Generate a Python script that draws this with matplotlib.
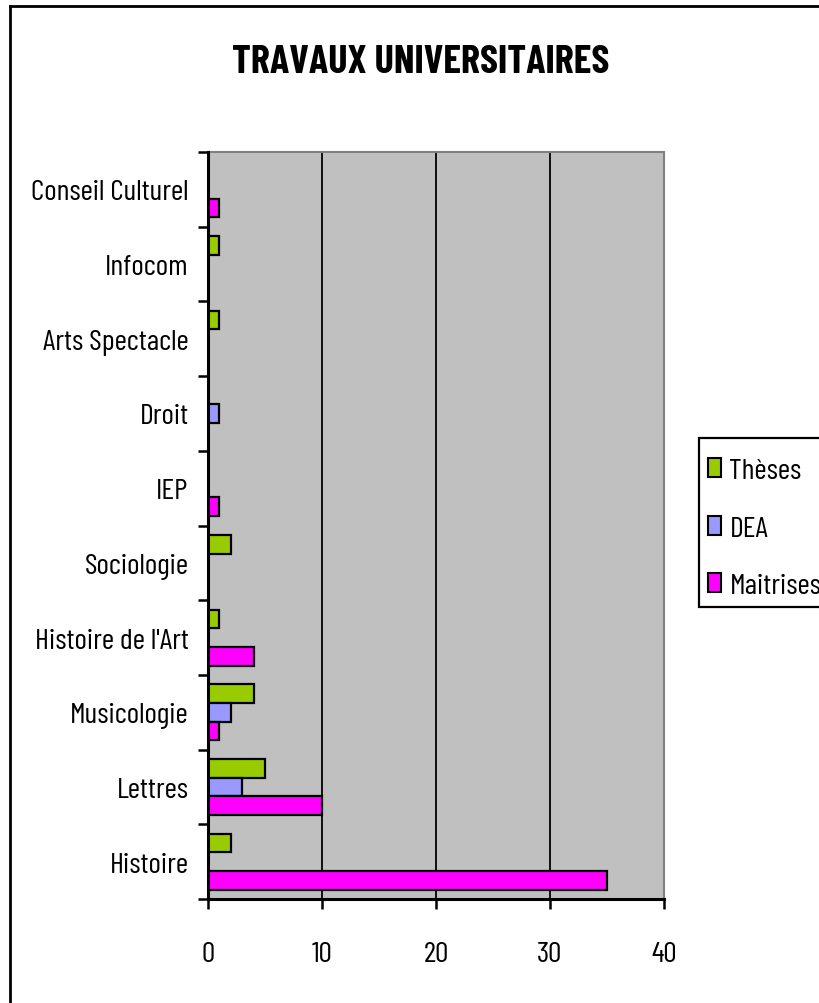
import matplotlib
matplotlib.use("Agg")
import matplotlib.pyplot as plt
import numpy as np
from matplotlib.lines import Line2D
from matplotlib.patches import Rectangle

categories = ["Histoire", "Lettres", "Musicologie", "Histoire de l'Art", "Sociologie",
              "IEP", "Droit", "Arts Spectacle", "Infocom", "Conseil Culturel"]
theses    = [2, 5, 4, 1, 2, 0, 0, 1, 1, 0]
dea       = [0, 3, 2, 0, 0, 0, 1, 0, 0, 0]
maitrises = [35, 10, 1, 4, 0, 1, 0, 0, 0, 1]
series_names = ["Thèses", "DEA", "Maitrises"]
x_ticks = [0, 10, 20, 30, 40]

FONT = ["Barlow Condensed", "Pragati Narrow", "DejaVu Sans"]
plt.rcParams['font.family'] = FONT
FS = 21.5

W, H = 820, 1004
fig = plt.figure(figsize=(W/100, H/100), dpi=100)
ax = fig.add_axes([208/W, 1-900/H, (664-208)/W, (900-153)/H])
ax.set_facecolor("#C0C0C0")

y = np.arange(len(categories))
bh = 0.25
cols = ["#99CC00", "#9999FF", "#FF00FF"]
for vals, off, c, name in zip([theses, dea, maitrises], [bh, 0, -bh], cols, series_names):
    ax.barh(y + off, vals, height=bh, color=c, edgecolor="black", linewidth=1.6,
            label=name, zorder=3)

ax.set_xlim(0, 40)
ax.set_ylim(-0.5, len(categories) - 0.5)
ax.set_xticks(x_ticks)
ax.set_xticklabels([str(v) for v in x_ticks], fontsize=FS)
ax.set_yticks(np.arange(len(categories) + 1) - 0.5)
ax.set_yticklabels([])
ax.set_yticks(y, minor=True)
ax.set_yticklabels(categories, minor=True, fontsize=FS)
ax.tick_params(axis='y', which='major', direction='out', length=7, width=1.8, color='black')
ax.tick_params(axis='y', which='minor', length=0, pad=14)
ax.tick_params(axis='x', which='major', direction='out', length=7, width=1.8, pad=23)

for gx in x_ticks[1:-1]:
    ax.axvline(gx, color="black", linewidth=1.3, zorder=1)

for s in ["left", "bottom"]:
    ax.spines[s].set_linewidth(2.2)
    ax.spines[s].set_color("black")
    ax.spines[s].set_zorder(4)
for s in ["top", "right"]:
    ax.spines[s].set_linewidth(1.5)
    ax.spines[s].set_color("#808080")

fig.text(421/W, 1-63/H, "TRAVAUX UNIVERSITAIRES", ha="center", va="center",
         fontsize=29, fontweight="bold")

# legend frame drawn separately (box runs past the right edge as in the reference)
fig.add_artist(Rectangle((699/W, 1-608/H), 140/W, (608-439)/H, transform=fig.transFigure,
                         facecolor="white", edgecolor="black", linewidth=1.6, zorder=2))
leg = fig.legend(loc="upper left", bbox_to_anchor=(708/W, 1-459/H), fontsize=FS,
                 frameon=False, handlelength=0.42, handleheight=0.62, handletextpad=0.3,
                 labelspacing=1.05, borderpad=0, borderaxespad=0)
leg.set_zorder(3)
for p in leg.get_patches():
    p.set_linewidth(1.5)

fig.add_artist(Line2D([10/W, 10/W], [0, 1-7/H], transform=fig.transFigure,
                      color="black", linewidth=2))
fig.add_artist(Line2D([10/W, 1], [1-7/H, 1-7/H], transform=fig.transFigure,
                      color="black", linewidth=2))

fig.savefig("out.png", dpi=100)
